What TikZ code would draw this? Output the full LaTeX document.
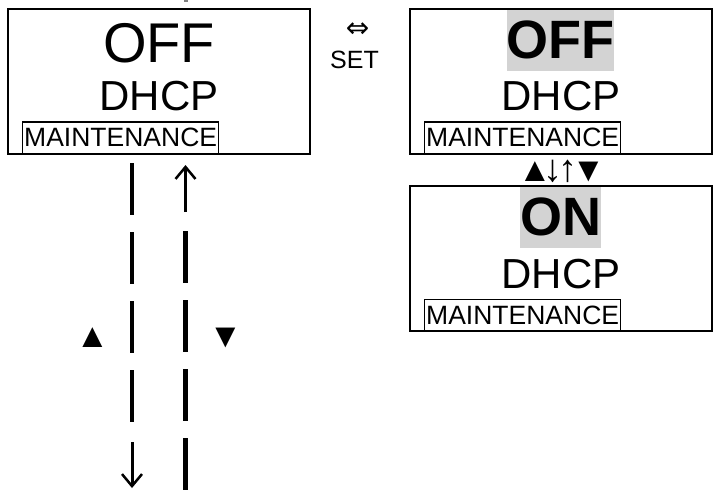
\documentclass[tikz,border=0pt]{standalone}
\usepackage{fontspec}
\setmainfont{Liberation Sans}
\newfontfamily\symfont{DejaVu Sans}
\usetikzlibrary{arrows.meta}
\definecolor{hlgray}{RGB}{211,211,211}
\tikzset{
  screen/.style={draw, line width=2pt, minimum width=302pt, minimum height=145pt, inner sep=0pt},
  bigtxt/.style={anchor=base, inner sep=0pt, font=\fontsize{56}{60}\selectfont},
  boldtxt/.style={fill=hlgray, inner sep=0pt, minimum height=61pt, text height=38pt, text depth=2pt, font=\fontsize{54}{58}\selectfont\bfseries},
  midtxt/.style={anchor=base, inner sep=0pt, font=\fontsize{42}{46}\selectfont},
  menubox/.style={draw, line width=1.3pt, anchor=south west, minimum width=196pt, minimum height=32pt, inner sep=0pt, font=\fontsize{26.5}{28}\selectfont},
  symtxt/.style={inner sep=0pt, font=\fontsize{34}{36}\selectfont},
  dashcol/.style={line width=4.3pt, dash pattern=on 52pt off 17pt},
  arrcol/.style={line width=3pt, -{Straight Barb[length=12pt, width=20pt, line width=2.5pt]}}
}
\newcommand\arrfont{\fontsize{38}{40}\selectfont}
\begin{document}
\begin{tikzpicture}[x=1pt,y=-1pt]
\useasboundingbox (0,0) rectangle (715,496);
% left screen
\node[screen] (L) at (159,81) {};
\node[bigtxt] (Loff) at (159,62) {OFF};
\node[midtxt] (Ldhcp) at (159,110) {DHCP};
\node[menubox] (Lm) at ([xshift=15pt]L.south west) {MAINTENANCE};
% right top screen
\node[screen] (R1) at (561,81) {};
\node[boldtxt, minimum width=107pt] (R1off) at (560.5,40.5) {OFF};
\node[midtxt] (R1dhcp) at (561,110) {DHCP};
\node[menubox] (R1m) at ([xshift=15pt]R1.south west) {MAINTENANCE};
% right bottom screen
\node[screen] (R2) at (561,258.5) {};
\node[boldtxt, minimum width=81pt] (R2on) at (560.5,217.5) {ON};
\node[midtxt] (R2dhcp) at (561,288) {DHCP};
\node[menubox] (R2m) at ([xshift=15pt]R2.south west) {MAINTENANCE};
% between right screens
\node[symtxt] (ud) at (563.25,171.5) {\makebox[21.5pt]{▲}\makebox[14.5pt]{\arrfont↓}\makebox[14.5pt]{\arrfont↑}\makebox[27.5pt]{▼}};
% SET
\node[inner sep=0pt, font=\symfont\fontsize{28}{30}\selectfont] (sw) at (357.5,30) {⇔};
\node[anchor=base, inner sep=0pt, font=\fontsize{25}{27}\selectfont] (set) at (354.5,68) {SET};
% left column markers
\node[symtxt] (up) at (92.5,338) {▲};
\node[symtxt] (dn) at (225.5,338) {▼};
% columns
\coordinate (a1) at (132,163);
\coordinate (a2) at (132,423);
\coordinate (a3) at (132,442);
\coordinate (a4) at (132,488);
\coordinate (b0) at (185.5,0);
\coordinate (b00) at (185.5,2);
\coordinate (b1) at (185.5,212);
\coordinate (b2) at (185.5,165);
\coordinate (b3) at (185.5,231);
\coordinate (b4) at (185.5,493);
\draw[dashcol] (a1) -- (a2);
\draw[arrcol] (a3) -- (a4);
\draw[arrcol] (b1) -- (b2);
\draw[dashcol] (b3) -- (b4);
\draw[line width=4pt, gray] (b0) -- (b00);
\end{tikzpicture}
\end{document}
